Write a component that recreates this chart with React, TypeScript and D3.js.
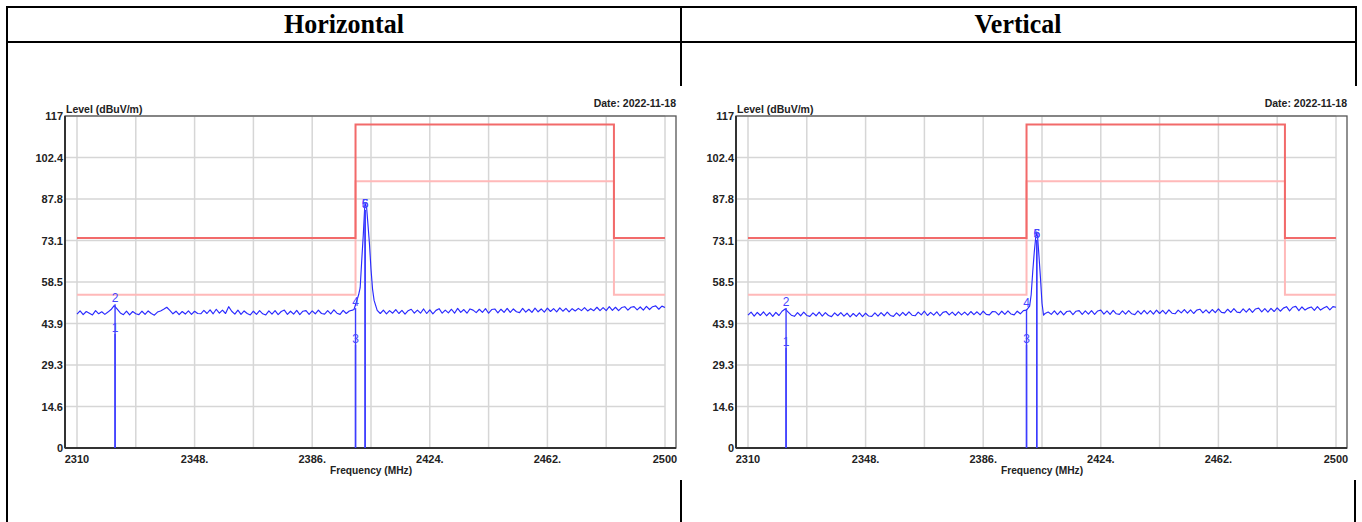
import React from "react";
import * as d3 from "d3";

// ---------- data ----------
const panelTitles = ["Horizontal", "Vertical"];
const dateLabel = "Date: 2022-11-18";
const yAxisTitle = "Level (dBuV/m)";
const xAxisTitle = "Frequency (MHz)";

const xTicks = [2310, 2348, 2386, 2424, 2462, 2500];
const xTickLabels = ["2310", "2348.", "2386.", "2424.", "2462.", "2500"];
const xGrid = [2310, 2329, 2348, 2367, 2386, 2405, 2424, 2443, 2462, 2481, 2500];
const yTicks = [0, 14.625, 29.25, 43.875, 58.5, 73.125, 87.75, 102.375, 117];
const yTickLabels = ["0", "14.6", "29.3", "43.9", "58.5", "73.1", "87.8", "102.4", "117"];

const limitFreq = [2310, 2400, 2400, 2483.5, 2483.5, 2500];
const peakLimit = [74, 74, 114, 114, 74, 74];
const avgLimit = [54, 54, 94, 94, 54, 54];

// sweep: 2310 .. 2500 MHz, 1 MHz per reading
const sweepStart = 2310;
const sweepStep = 1;

const levelH = [
  47.2, 48.3, 47.0, 48.1, 47.5, 46.9, 48.4, 47.3, 48.0, 47.1,
  47.9, 48.8, 50.2, 48.9, 47.6, 47.0, 48.2, 46.9, 48.1, 47.3,
  47.0, 48.2, 47.1, 48.3, 47.4, 46.8, 47.9, 48.3, 48.9, 49.6,
  48.5, 47.3, 48.2, 47.0, 48.1, 47.2, 48.3, 47.1, 48.2, 47.4,
  47.3, 48.5, 47.4, 48.7, 47.3, 48.9, 47.5, 48.6, 47.4, 49.8,
  48.2, 47.2, 48.6, 47.1, 48.3, 47.4, 46.9, 48.2, 47.1, 48.4,
  47.3, 46.9, 48.3, 47.2, 48.4, 47.0, 48.1, 48.6, 47.1, 48.2,
  47.2, 48.5, 47.0, 48.2, 48.4, 47.1, 48.3, 47.3, 48.6, 47.4,
  47.2, 48.4, 47.3, 48.7, 47.5, 47.1, 48.5, 47.4, 48.3, 48.6,
  50.5, 54.0, 66.0, 85.5, 79.0, 63.0, 52.0, 48.5,
  47.4, 48.6, 47.3, 48.4, 47.5, 48.8, 47.4, 48.5, 47.2, 48.4, 48.9, 47.5,
  48.6, 47.5, 49.0, 47.4, 48.7, 47.3, 48.5, 49.1, 47.5, 48.6,
  47.6, 48.9, 47.5, 49.2, 47.8, 48.8, 47.5, 49.0, 48.6, 47.7,
  48.9, 47.8, 49.1, 47.5, 48.8, 49.0, 47.6, 48.9, 47.8, 49.2,
  47.8, 49.0, 48.0, 47.7, 49.2, 47.9, 48.9, 47.8, 49.3, 48.0,
  49.0, 47.9, 49.3, 48.1, 49.1, 48.0, 49.4, 48.2, 49.2, 48.0,
  49.1, 48.3, 49.2, 48.4, 49.5, 48.3, 49.1, 48.4, 49.6, 48.4,
  49.5, 48.4, 49.8, 48.5, 49.6, 48.4, 49.5, 49.8, 48.6, 49.6,
  49.8, 48.7, 49.7, 48.6, 49.9, 48.8, 49.8, 50.1, 48.9, 50.0, 49.5,
];
const peakFreqH = [2399.5, 2401.5, 2402.5, 2403.1, 2403.6, 2404.5, 2405.5];
const peakLevelH = [48.8, 56.5, 75.0, 86.3, 84.5, 72.0, 56.0];

const levelV = [
  46.8, 47.9, 46.5, 47.8, 46.7, 48.0, 46.6, 47.7, 46.4, 47.8,
  46.7, 48.2, 49.0, 47.9, 46.8, 46.4, 47.7, 46.6, 47.9, 46.7,
  46.4, 47.6, 46.6, 47.9, 46.5, 47.7, 46.7, 46.3, 47.6, 46.6,
  47.7, 46.5, 47.5, 46.2, 47.4, 46.4, 47.6, 46.3, 47.5, 46.5,
  46.4, 47.6, 46.5, 47.7, 46.6, 47.9, 46.7, 46.4, 47.6, 46.6,
  47.8, 46.7, 48.0, 46.8, 46.6, 47.9, 46.9, 48.2, 46.7, 47.8,
  46.8, 48.0, 46.6, 47.8, 48.1, 46.9, 47.9, 46.7, 48.0, 46.9,
  47.9, 46.8, 48.1, 47.0, 48.0, 46.9, 48.2, 47.1, 46.9, 48.1,
  48.0, 46.9, 48.2, 47.1, 48.3, 47.2, 46.9, 48.2, 47.3, 48.4,
  48.6, 50.0, 62.0, 74.5, 68.0, 51.0, 47.4, 47.9,
  47.1, 48.3, 47.0, 48.2, 46.9, 48.1, 48.3, 47.0, 48.2, 48.4, 47.1, 48.3,
  47.2, 48.4, 47.1, 48.3, 48.6, 47.2, 48.3, 47.1, 48.5, 47.3,
  47.1, 48.3, 47.2, 48.4, 47.3, 47.0, 48.3, 47.2, 48.5, 47.3,
  48.4, 47.2, 48.6, 47.4, 48.5, 47.3, 48.7, 47.5, 47.3, 48.6,
  47.6, 48.8, 47.5, 48.7, 47.4, 48.6, 48.9, 47.6, 48.7, 47.5,
  48.8, 47.7, 49.0, 47.8, 47.6, 48.9, 47.8, 49.1, 47.9, 47.7,
  49.0, 47.9, 49.1, 47.8, 49.0, 49.3, 48.0, 49.1, 47.9, 49.2,
  48.1, 49.4, 48.2, 49.3, 49.8, 48.3, 49.6, 49.9, 48.4, 49.7,
  48.6, 49.3, 49.7, 48.5, 49.8, 48.6, 49.3, 49.9, 48.7, 49.8, 49.6,
];
const peakFreqV = [2401.5, 2402.5, 2403.3, 2403.6, 2404.5, 2405.5];
const peakLevelV = [54.0, 69.0, 76.2, 74.0, 60.0, 46.8];

const markerLabels = ["1", "2", "3", "4", "5", "6"];
const markerFreqH = [2322.3, 2322.3, 2400, 2400, 2403.1, 2403.1];
const markerLevelH = [40.2, 50.7, 36.3, 49.3, 83.9, 83.9];
const markerFreqV = [2322.3, 2322.3, 2400, 2400, 2403.3, 2403.3];
const markerLevelV = [35.2, 49.3, 36.3, 49.0, 73.3, 73.3];

// ---------- drawing ----------
const W = 1362;
const H = 522;
const SANS = "'Liberation Sans', Arial, sans-serif";

type Pt = [number, number];

function buildTrace(levels: number[], extraF: number[], extraL: number[]): Pt[] {
  const pts: Pt[] = levels.map((v, i) => [sweepStart + i * sweepStep, v] as Pt);
  extraF.forEach((f, i) => pts.push([f, extraL[i]]));
  pts.sort((a, b) => a[0] - b[0]);
  return pts;
}

function Chart(props: {
  dx: number;
  levels: number[];
  peakF: number[];
  peakL: number[];
  mF: number[];
  mL: number[];
}) {
  const { dx, levels, peakF, peakL, mF, mL } = props;
  const frame = { left: 65 + dx, right: 676 + dx, top: 116, bottom: 448 };
  const x = d3.scaleLinear().domain([2310, 2500]).range([77 + dx, 665 + dx]);
  const y = d3.scaleLinear().domain([0, 117]).range([448, 116]);

  const line = d3
    .line<Pt>()
    .x((d) => x(d[0]))
    .y((d) => y(d[1]));
  const trace = buildTrace(levels, peakF, peakL);
  const peakLim: Pt[] = limitFreq.map((f, i) => [f, peakLimit[i]]);
  const avgLim: Pt[] = limitFreq.map((f, i) => [f, avgLimit[i]]);

  return (
    <g>
      {/* grid */}
      {xGrid.map((f) => (
        <line
          key={"gx" + f}
          x1={x(f)}
          x2={x(f)}
          y1={frame.top}
          y2={frame.bottom}
          stroke="#d6d6d6"
          strokeWidth={1.5}
        />
      ))}
      {yTicks.map((v) => (
        <line
          key={"gy" + v}
          x1={frame.left}
          x2={x(2500)}
          y1={y(v)}
          y2={y(v)}
          stroke="#d6d6d6"
          strokeWidth={1.5}
        />
      ))}
      {/* frame */}
      <rect
        x={frame.left}
        y={frame.top}
        width={frame.right - frame.left}
        height={frame.bottom - frame.top}
        fill="none"
        stroke="#555"
        strokeWidth={1.3}
      />
      <line x1={frame.left} x2={frame.left} y1={frame.top} y2={frame.bottom} stroke="#333" strokeWidth={2} />
      <line x1={frame.left} x2={frame.right} y1={frame.bottom} y2={frame.bottom} stroke="#333" strokeWidth={2} />

      {/* limits */}
      <path d={line(avgLim) || ""} fill="none" stroke="#ffb9b9" strokeWidth={2} />
      <path d={line(peakLim) || ""} fill="none" stroke="#f26a6a" strokeWidth={2} />

      {/* trace */}
      <path d={line(trace) || ""} fill="none" stroke="#2a2aff" strokeWidth={1.15} strokeLinejoin="round" />

      {/* marker lines */}
      {mF.map((f, i) => (
        <line
          key={"ml" + i}
          x1={x(f)}
          x2={x(f)}
          y1={y(mL[i])}
          y2={y(0)}
          stroke="#3c3cff"
          strokeWidth={1.4}
        />
      ))}
      {mF.map((f, i) => (
        <text
          key={"mt" + i}
          x={x(f)}
          y={y(mL[i]) - 2}
          textAnchor="middle"
          fontFamily={SANS}
          fontSize={12}
          fill="#4646ff"
        >
          {markerLabels[i]}
        </text>
      ))}

      {/* y axis labels */}
      {yTicks.map((v, i) => (
        <text
          key={"yl" + v}
          x={frame.left - 2}
          y={y(v) + 4}
          textAnchor="end"
          fontFamily={SANS}
          fontSize={11}
          fontWeight="bold"
          fill="#222"
        >
          {yTickLabels[i]}
        </text>
      ))}
      {/* x axis labels */}
      {xTicks.map((f, i) => (
        <text
          key={"xl" + f}
          x={x(f)}
          y={463}
          textAnchor="middle"
          fontFamily={SANS}
          fontSize={11}
          fontWeight="bold"
          fill="#222"
        >
          {xTickLabels[i]}
        </text>
      ))}
      <text x={frame.left + 1} y={113} fontFamily={SANS} fontSize={10.5} fontWeight="bold" fill="#222">
        {yAxisTitle}
      </text>
      <text x={frame.right} y={107} textAnchor="end" fontFamily={SANS} fontSize={10.5} fontWeight="bold" fill="#222">
        {dateLabel}
      </text>
      <text x={(x(2310) + x(2500)) / 2} y={474} textAnchor="middle" fontFamily={SANS} fontSize={10.2} fontWeight="bold" fill="#222">
        {xAxisTitle}
      </text>
    </g>
  );
}

export default function App() {
  return (
    <div style={{ position: "absolute", left: 0, top: 0, width: W, height: H, background: "#fff" }}>
      <svg width={W} height={H} viewBox={`0 0 ${W} ${H}`} style={{ display: "block" }}>
        <rect x={0} y={0} width={W} height={H} fill="#fff" />
        {/* table */}
        <g stroke="#000" strokeWidth={2}>
          <line x1={6} x2={1357} y1={7} y2={7} />
          <line x1={6} x2={1357} y1={42} y2={42} />
          <line x1={7} x2={7} y1={6} y2={H} />
          <line x1={681} x2={681} y1={6} y2={86} />
          <line x1={1356} x2={1356} y1={6} y2={86} />
          <line x1={681} x2={681} y1={480} y2={H} />
          <line x1={1355} x2={1355} y1={480} y2={H} />
        </g>
        <text
          x={344}
          y={33}
          textAnchor="middle"
          fontFamily="'Liberation Serif', 'Times New Roman', serif"
          fontWeight="bold"
          fontSize={28}
          textLength={120}
          lengthAdjust="spacingAndGlyphs"
        >
          {panelTitles[0]}
        </text>
        <text
          x={1018}
          y={33}
          textAnchor="middle"
          fontFamily="'Liberation Serif', 'Times New Roman', serif"
          fontWeight="bold"
          fontSize={28}
          textLength={87}
          lengthAdjust="spacingAndGlyphs"
        >
          {panelTitles[1]}
        </text>
        <Chart dx={0} levels={levelH} peakF={peakFreqH} peakL={peakLevelH} mF={markerFreqH} mL={markerLevelH} />
        <Chart dx={671} levels={levelV} peakF={peakFreqV} peakL={peakLevelV} mF={markerFreqV} mL={markerLevelV} />
      </svg>
    </div>
  );
}
